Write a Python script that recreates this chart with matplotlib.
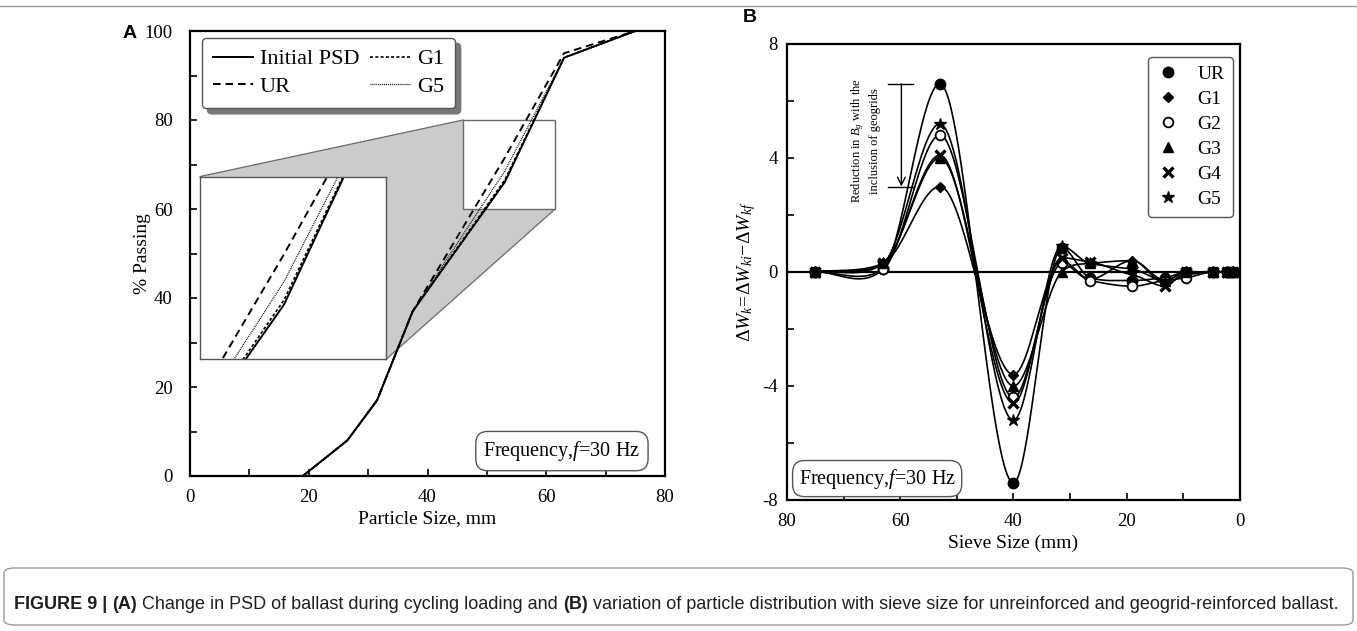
import numpy as np
import matplotlib
matplotlib.use('Agg')
import matplotlib.pyplot as plt
from matplotlib.patches import Polygon, Rectangle, FancyBboxPatch
from matplotlib.lines import Line2D
from matplotlib.ticker import MultipleLocator

plt.rcParams['font.family'] = ['Liberation Serif', 'DejaVu Serif']
plt.rcParams['mathtext.fontset'] = 'custom'
plt.rcParams['mathtext.rm'] = 'Liberation Serif'
plt.rcParams['mathtext.it'] = 'Liberation Serif:italic'
plt.rcParams['mathtext.bf'] = 'Liberation Serif:bold'
plt.rcParams['lines.scale_dashes'] = False
plt.rcParams['axes.unicode_minus'] = False

# ---------------- Panel A data ----------------
psd_size = [19, 26.5, 31.5, 37.5, 53, 63, 75]
psd_initial = [0, 8, 17, 37, 66, 94, 100]
psd_ur = [0, 8, 17, 37, 71.5, 95, 100]
psd_g1 = [0, 8, 17, 37, 66.5, 94, 100]
psd_g5 = [0, 8, 17, 37, 68.5, 94, 100]
zoom_x = (46, 61.5)
zoom_y = (60, 80)

# ---------------- Panel B data ----------------
sieve = [75, 63, 53, 40, 31.5, 26.5, 19, 13.2, 9.5, 4.75, 2.36, 1.18]
dW_ur = [0, 0.1, 6.6, -7.4, 0.85, -0.2, -0.3, -0.2, 0.0, 0, 0, 0]
dW_g1 = [0, 0.3, 3.0, -3.6, 0.4, -0.25, 0.4, -0.4, -0.1, 0, 0, 0]
dW_g2 = [0, 0.1, 4.8, -4.4, 0.3, -0.3, -0.5, -0.3, -0.2, 0, 0, 0]
dW_g3 = [0, 0.3, 4.0, -4.0, 0.0, 0.3, 0.4, -0.3, 0.0, 0, 0, 0]
dW_g4 = [0, 0.3, 4.1, -4.6, 0.5, 0.35, -0.1, -0.5, 0.0, 0, 0, 0]
dW_g5 = [0, 0.3, 5.2, -5.2, 0.9, 0.3, 0.1, -0.3, 0.0, 0, 0, 0]
series_B = ['UR', 'G1', 'G2', 'G3', 'G4', 'G5']


def smooth_curve(x, y, c=0.6, n=60):
    """Cardinal Hermite spline through the points (flat tangents at local extrema)."""
    x = np.asarray(x, float); y = np.asarray(y, float)
    o = np.argsort(x); x = x[o]; y = y[o]
    m = np.zeros(len(x))
    for i in range(1, len(x) - 1):
        if (y[i] - y[i - 1]) * (y[i + 1] - y[i]) <= 0:
            m[i] = 0.0
        else:
            m[i] = c * (y[i + 1] - y[i - 1]) / (x[i + 1] - x[i - 1])
    m[0] = (y[1] - y[0]) / (x[1] - x[0])
    m[-1] = (y[-1] - y[-2]) / (x[-1] - x[-2])
    xs_all, ys_all = [], []
    for i in range(len(x) - 1):
        h = x[i + 1] - x[i]
        t = np.linspace(0, 1, n)
        h00 = 2 * t ** 3 - 3 * t ** 2 + 1
        h10 = t ** 3 - 2 * t ** 2 + t
        h01 = -2 * t ** 3 + 3 * t ** 2
        h11 = t ** 3 - t ** 2
        xs_all.append(x[i] + t * h)
        ys_all.append(h00 * y[i] + h10 * h * m[i] + h01 * y[i + 1] + h11 * h * m[i + 1])
    return np.concatenate(xs_all), np.concatenate(ys_all)


W, H = 1357, 631
fig = plt.figure(figsize=(W / 100, H / 100), dpi=100)


def rect(l, t, r, b):
    return [l / W, 1 - b / H, (r - l) / W, (b - t) / H]


TICK = 13.5
styles_A = {
    'Initial PSD': dict(ls='-', lw=1.4),
    'UR': dict(ls=(0, (5.5, 3.5)), lw=1.4),
    'G1': dict(ls=(0, (2.2, 1.6)), lw=1.2),
    'G5': dict(ls=(0, (0.7, 0.7)), lw=0.9),
}

# ================= Panel A =================
axA = fig.add_axes(rect(190, 31, 665, 476))
axA.set_xlim(0, 80)
axA.set_ylim(0, 100)
for name, ys in [('Initial PSD', psd_initial), ('UR', psd_ur), ('G1', psd_g1), ('G5', psd_g5)]:
    axA.plot(psd_size, ys, color='k', zorder=3, **styles_A[name])

inset_box = (1.7, 26.2, 33.0, 67.3)  # x0, y0, x1, y1 in axA data
axA.add_patch(Rectangle((zoom_x[0], zoom_y[0]), zoom_x[1] - zoom_x[0], zoom_y[1] - zoom_y[0],
                        facecolor='white', edgecolor='#6a6a6a', lw=1.0, zorder=1))
poly = [(inset_box[0], inset_box[3]), (zoom_x[0], zoom_y[1]), (zoom_x[0], zoom_y[0]),
        (zoom_x[1], zoom_y[0]), (inset_box[2], inset_box[1]), (inset_box[0], inset_box[1])]
axA.add_patch(Polygon(poly, closed=True, facecolor='#cbcbcb', edgecolor='none', zorder=0.8))
axA.plot([inset_box[0], zoom_x[0]], [inset_box[3], zoom_y[1]], color='#6a6a6a', lw=0.9, zorder=0.9)
axA.plot([inset_box[2], zoom_x[1]], [inset_box[1], zoom_y[0]], color='#6a6a6a', lw=0.9, zorder=0.9)

axA.xaxis.set_major_locator(MultipleLocator(20))
axA.xaxis.set_minor_locator(MultipleLocator(10))
axA.yaxis.set_major_locator(MultipleLocator(20))
axA.yaxis.set_minor_locator(MultipleLocator(10))
axA.tick_params(which='both', direction='in', length=5, width=1.2, labelsize=TICK)
axA.tick_params(axis='x', pad=9.5)
axA.tick_params(axis='y', pad=12.5)
for s in axA.spines.values():
    s.set_linewidth(1.6)
axA.set_xlabel('Particle Size, mm', fontsize=14, labelpad=3)
axA.set_ylabel('% Passing', fontsize=14)
axA.yaxis.set_label_coords(-0.083, 0.5)

hA = [Line2D([], [], color='k', **styles_A[n]) for n in ['Initial PSD', 'UR', 'G1', 'G5']]
legA = axA.legend(hA, ['Initial PSD', 'UR', 'G1', 'G5'], ncol=2, loc='upper left',
                  bbox_to_anchor=(0.025, 0.985), borderaxespad=0, fontsize=16,
                  fancybox=True, shadow={'ox': 4, 'oy': -4, 'color': '#777777', 'alpha': 1},
                  edgecolor='#555555', framealpha=1, handlelength=1.8, handletextpad=0.3,
                  columnspacing=0.5, borderpad=0.5, labelspacing=0.33)
legA.get_frame().set_linewidth(1.0)
legA.set_zorder(5)

axA.text(0.783, 0.056, r'Frequency,$f$=30 Hz', transform=axA.transAxes, ha='center', va='center',
         fontsize=14.5, bbox=dict(boxstyle='round,pad=0.38,rounding_size=0.6', fc='white', ec='#555555', lw=1.0))

p0 = fig.transFigure.inverted().transform(axA.transData.transform((inset_box[0], inset_box[1])))
p1 = fig.transFigure.inverted().transform(axA.transData.transform((inset_box[2], inset_box[3])))
axI = fig.add_axes([p0[0], p0[1], p1[0] - p0[0], p1[1] - p0[1]])
for name, ys in [('Initial PSD', psd_initial), ('UR', psd_ur), ('G1', psd_g1), ('G5', psd_g5)]:
    axI.plot(psd_size, ys, color='k', **styles_A[name])
axI.set_xlim(*zoom_x)
axI.set_ylim(*zoom_y)
axI.set_xticks([]); axI.set_yticks([])
for s in axI.spines.values():
    s.set_color('#555555'); s.set_linewidth(1.0)

fig.text(123 / W, 1 - 33 / H, 'A', fontsize=14, fontweight='bold', family='Liberation Sans',
         ha='left', va='center')

# ================= Panel B =================
axB = fig.add_axes(rect(787, 44, 1240, 500))
axB.set_xlim(80, 0)
axB.set_ylim(-8, 8)
axB.axhline(0, color='k', lw=1.6, zorder=2)
mk = {
    'UR': dict(marker='o', ms=7.5, mfc='k'),
    'G1': dict(marker='D', ms=5.5, mfc='k'),
    'G2': dict(marker='o', ms=7.0, mfc='white', mew=1.3),
    'G3': dict(marker='^', ms=7.5, mfc='k'),
    'G4': dict(marker='x', ms=7.0, mew=2.4),
    'G5': dict(marker='*', ms=9.0, mfc='k'),
}
for name, vals in zip(series_B, [dW_ur, dW_g1, dW_g2, dW_g3, dW_g4, dW_g5]):
    xs, ys = smooth_curve(sieve, vals)
    axB.plot(xs, ys, color='k', lw=1.2, zorder=3)
    axB.plot(sieve, vals, ls='none', color='k', zorder=4, **mk[name])

axB.xaxis.set_major_locator(MultipleLocator(20))
axB.xaxis.set_minor_locator(MultipleLocator(10))
axB.yaxis.set_major_locator(MultipleLocator(4))
axB.yaxis.set_minor_locator(MultipleLocator(2))
axB.tick_params(which='both', direction='in', length=5, width=1.2, labelsize=TICK)
axB.tick_params(axis='x', pad=9.5)
axB.tick_params(axis='y', pad=6.5)
for s in axB.spines.values():
    s.set_linewidth(1.6)
axB.set_xlabel('Sieve Size (mm)', fontsize=14, labelpad=3)
axB.set_ylabel(r'$\Delta W_k\!=\!\Delta W_{ki}\!-\!\Delta W_{kf}$', fontsize=14)
axB.yaxis.set_label_coords(-0.065, 0.5)

hB = [Line2D([], [], ls='none', color='k', **mk[n]) for n in series_B]
legB = axB.legend(hB, series_B, loc='upper right', bbox_to_anchor=(0.985, 0.972), borderaxespad=0,
                  fontsize=14, fancybox=True, edgecolor='#555555', framealpha=1,
                  handlelength=1.2, handletextpad=0.9, borderpad=0.45, labelspacing=0.38)
legB.get_frame().set_linewidth(1.0)

ax_arrow_x = 59.8
axB.annotate('', xy=(ax_arrow_x, dW_g1[2]), xytext=(ax_arrow_x, dW_ur[2]),
             arrowprops=dict(arrowstyle='->', color='k', lw=1.0, mutation_scale=14, shrinkA=0, shrinkB=0))
axB.plot([57.7, 62.1], [dW_ur[2], dW_ur[2]], color='k', lw=1.0)
axB.plot([57.7, 62.1], [dW_g1[2], dW_g1[2]], color='k', lw=1.0)
axB.text(66.2, 4.6, 'Reduction in $B_g$ with the\ninclusion of geogrids', rotation=90,
         ha='center', va='center', multialignment='center', fontsize=9, linespacing=1.3)

axB.text(0.199, 0.047, r'Frequency,$f$=30 Hz', transform=axB.transAxes, ha='center', va='center',
         fontsize=14.5, bbox=dict(boxstyle='round,pad=0.3,rounding_size=0.6', fc='white', ec='#555555', lw=1.0))

fig.text(743 / W, 1 - 17 / H, 'B', fontsize=14, fontweight='bold', family='Liberation Sans',
         ha='left', va='center')

# ================= Frame and caption =================
fig.add_artist(Line2D([0, 1], [1 - 6 / H, 1 - 6 / H], transform=fig.transFigure, color='#9a9a9a', lw=1.0))
fig.add_artist(FancyBboxPatch((4 / W, 1 - 625 / H), 1349 / W, 57 / H,
                              boxstyle='round,pad=0,rounding_size=0.008', transform=fig.transFigure,
                              fc='none', ec='#9a9a9a', lw=1.0))

pieces = [('FIGURE 9 | ', 'bold'), ('(A)', 'bold'),
          (' Change in PSD of ballast during cycling loading and ', 'normal'), ('(B)', 'bold'),
          (' variation of particle distribution with sieve size for unreinforced and geogrid-reinforced ballast.',
           'normal')]
renderer = fig.canvas.get_renderer()


def draw_caption(fs, x_start, y_base):
    x = x_start
    arts = []
    for txt, wt in pieces:
        t = fig.text(x / W, 1 - y_base / H, txt, fontsize=fs, fontweight=wt, family='Liberation Sans',
                     color='#1e1e1e', ha='left', va='baseline')
        bb = t.get_window_extent(renderer)
        x += bb.width
        arts.append(t)
    return arts, x - x_start


arts, width = draw_caption(10.5, 14, 609)
for a in arts:
    a.remove()
fs = 10.5 * 1331 / width
draw_caption(fs, 14, 609)

fig.savefig('out.png', dpi=100)
